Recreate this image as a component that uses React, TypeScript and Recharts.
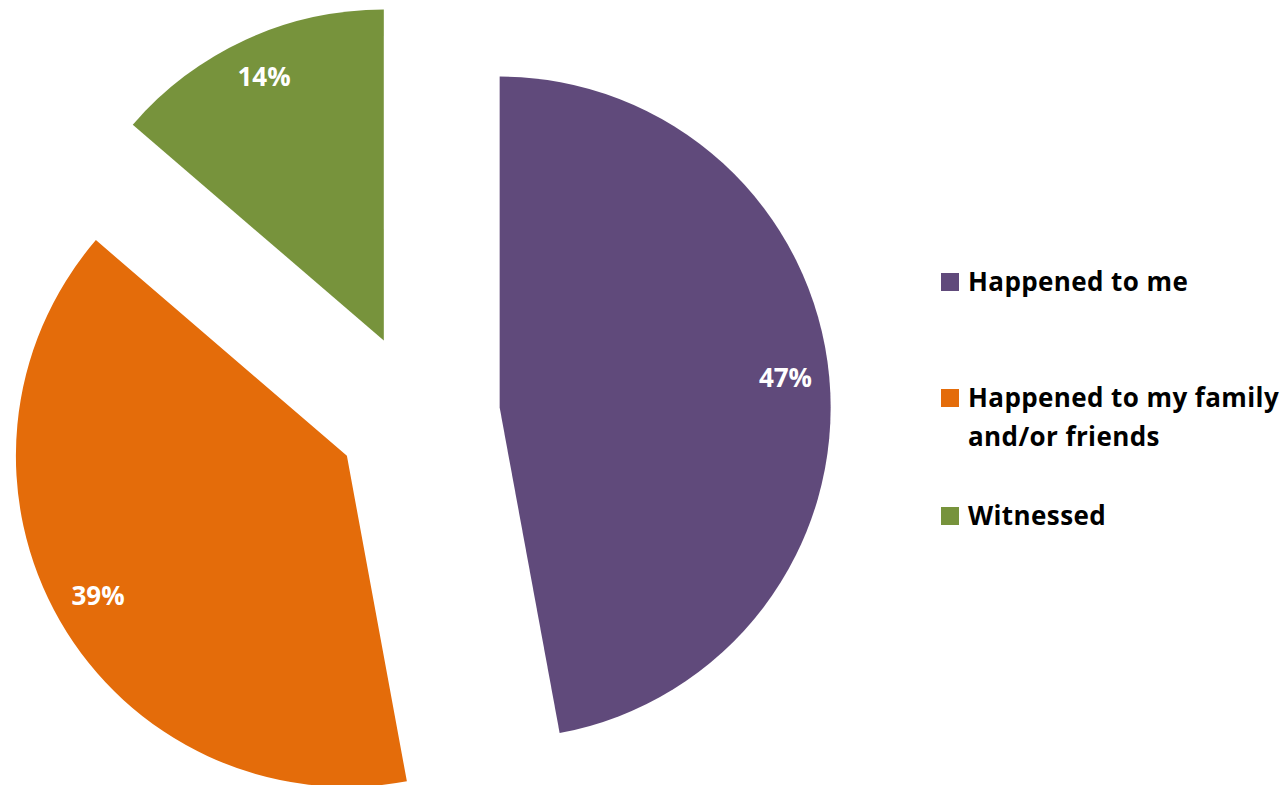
import React from 'react';
import { PieChart, Pie, Cell, Legend } from 'recharts';

const categories = ['Happened to me', 'Happened to my family and/or friends', 'Witnessed'];
const shares = [47.1, 39.2, 13.7];
const colors = ['#604A7B', '#E46C0A', '#77933C'];
// legend text as it wraps in the original
const legendLines = [['Happened to me'], ['Happened to my family', 'and/or friends'], ['Witnessed']];

const data = categories.map((name, i) => ({ name, value: shares[i] }));

const WIDTH = 1283;
const HEIGHT = 785;
const CX = 418;
const CY = 415;
const RADIUS = 331;
const EXPLODE = 82;
const LABEL_R = 287;
const RAD = Math.PI / 180;
const FONT = '"Open Sans", sans-serif';

// every slice is pushed out along its own middle angle
const total = shares.reduce((a, b) => a + b, 0);
const centers = shares.map((v, i) => {
  const before = shares.slice(0, i).reduce((a, b) => a + b, 0);
  const mid = 90 - (360 * (before + v / 2)) / total;
  return { x: CX + EXPLODE * Math.cos(mid * RAD), y: CY - EXPLODE * Math.sin(mid * RAD) };
});

const makeLabel = (only: number) => (props: any) => {
  const { cx, cy, midAngle, index, value } = props;
  if (index !== only) return null;
  const x = cx + LABEL_R * Math.cos(-midAngle * RAD);
  const y = cy + LABEL_R * Math.sin(-midAngle * RAD) - 4;
  return (
    <text x={x} y={y} fill="#fff" textAnchor="middle" dominantBaseline="central"
      fontFamily={FONT} fontWeight={700} fontSize={26}>
      {Math.round(value)}%
    </text>
  );
};

const entryGaps = [0, 77, 40];

const LegendBox = () => (
  <div style={{ fontFamily: FONT, fontWeight: 700, fontSize: 26, letterSpacing: 0.4, color: '#000', lineHeight: '39px' }}>
    {legendLines.map((lines, i) => (
      <div key={i} style={{ display: 'flex', marginTop: entryGaps[i] }}>
        <div style={{ width: 18, height: 18, background: colors[i], marginTop: 11, marginRight: 9, flexShrink: 0 }} />
        <div>
          {lines.map((l) => (
            <div key={l} style={{ whiteSpace: 'nowrap' }}>{l}</div>
          ))}
        </div>
      </div>
    ))}
  </div>
);

export default function App() {
  return (
    <div style={{ position: 'absolute', left: 0, top: 0, width: WIDTH, height: HEIGHT, background: '#fff' }}>
      <PieChart width={WIDTH} height={HEIGHT} margin={{ top: 0, right: 0, bottom: 0, left: 0 }}>
        {shares.map((_, i) => (
          <Pie
            key={i}
            data={data}
            dataKey="value"
            nameKey="name"
            cx={centers[i].x}
            cy={centers[i].y}
            outerRadius={RADIUS}
            startAngle={90}
            endAngle={-270}
            stroke="none"
            labelLine={false}
            label={makeLabel(i)}
            isAnimationActive={false}
          >
            {data.map((d, j) => (
              <Cell key={d.name} fill={j === i ? colors[j] : 'transparent'} />
            ))}
          </Pie>
        ))}
        <Legend
          content={<LegendBox />}
          wrapperStyle={{ left: 941, top: 262, width: 342 }}
        />
      </PieChart>
    </div>
  );
}
